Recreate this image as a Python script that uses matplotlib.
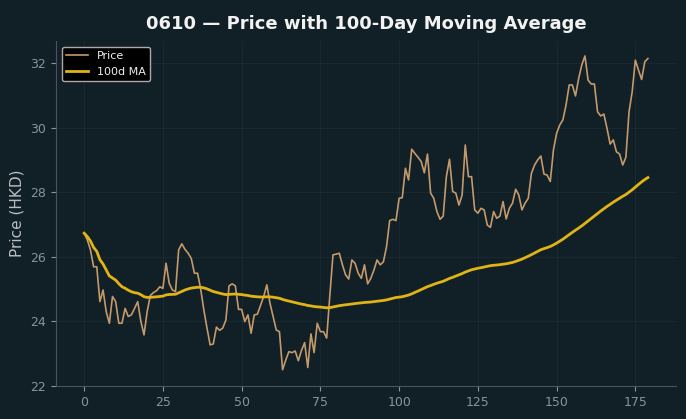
import matplotlib
matplotlib.use("Agg")
import matplotlib.pyplot as plt
import numpy as np
import pandas as pd

# daily closes
price = [
    26.73, 26.52, 26.21, 25.69, 25.69, 24.61, 24.97, 24.30, 23.94, 24.77,
    24.61, 23.94, 23.94, 24.40, 24.15, 24.20, 24.40, 24.61, 24.00, 23.58,
    24.30, 24.80, 24.89, 24.95, 25.07, 25.02, 25.80, 25.18, 24.97, 24.92,
    26.21, 26.40, 26.23, 26.11, 25.95, 25.49, 25.49, 25.00, 24.35, 23.79,
    23.27, 23.30, 23.82, 23.72, 23.79, 24.04, 25.10, 25.16, 25.10, 24.37,
    24.37, 23.99, 24.20, 23.63, 24.20, 24.22, 24.50, 24.77, 25.13, 24.56,
    24.15, 23.73, 23.68, 22.50, 22.80, 23.06, 23.03, 23.08, 22.78, 23.10,
    23.34, 22.57, 23.61, 23.03, 23.94, 23.68, 23.68, 23.48, 24.80, 26.06,
    26.08, 26.11, 25.75, 25.44, 25.31, 25.90, 25.80, 25.49, 25.33, 25.75,
    25.16, 25.33, 25.59, 25.90, 25.75, 25.84, 26.31, 27.12, 27.16, 27.12,
    27.81, 27.83, 28.74, 28.38, 29.33, 29.20, 29.08, 28.95, 28.60, 29.18,
    27.97, 27.81, 27.40, 27.16, 27.26, 28.48, 29.02, 28.02, 27.97, 27.60,
    27.91, 29.46, 28.48, 28.48, 27.45, 27.35, 27.50, 27.45, 26.98, 26.91,
    27.40, 27.19, 27.26, 27.71, 27.17, 27.50, 27.66, 28.09, 27.91, 27.45,
    27.66, 27.81, 28.58, 28.84, 29.00, 29.12, 28.56, 28.53, 28.33, 29.31,
    29.82, 30.08, 30.24, 30.70, 31.32, 31.32, 30.98, 31.52, 31.94, 32.22,
    31.47, 31.35, 31.35, 30.49, 30.36, 30.42, 29.98, 29.49, 29.62, 29.25,
    29.18, 28.84, 29.08, 30.49, 31.11, 32.09, 31.78, 31.49, 32.04, 32.14,
]
days = np.arange(len(price))
ma100 = pd.Series(price).rolling(100, min_periods=1).mean()

bg = "#111f26"
fig = plt.figure(figsize=(6.86, 4.19), dpi=100, facecolor=bg)
ax = fig.add_axes([0.0816, 0.079, 0.904, 0.823], facecolor=bg)

ax.plot(days, price, color="#c49a6c", lw=1.2, label="Price")
ax.plot(days, ma100, color="#e0b416", lw=2.0, label="100d MA")

ax.set_ylim(22, 32.68)
ax.set_yticks([22, 24, 26, 28, 30, 32])
ax.set_xticks([0, 25, 50, 75, 100, 125, 150, 175])
ax.grid(True, color="#2a3940", lw=0.6, alpha=0.4)
ax.tick_params(colors="#8a9399", labelsize=9)
for s in ["top", "right"]:
    ax.spines[s].set_visible(False)
for s in ["left", "bottom"]:
    ax.spines[s].set_color("#4a5459")

ax.set_ylabel("Price (HKD)", color="#b8bec2", fontsize=11)
ax.set_title("0610 — Price with 100-Day Moving Average", color="#f2f2f2",
             fontsize=13, fontweight="bold", pad=9)

leg = ax.legend(loc="upper left", fontsize=8, facecolor="black",
                edgecolor="#aaaaaa", framealpha=1)
for t in leg.get_texts():
    t.set_color("#eeeeee")

fig.savefig("out.png", dpi=100, facecolor=bg)
